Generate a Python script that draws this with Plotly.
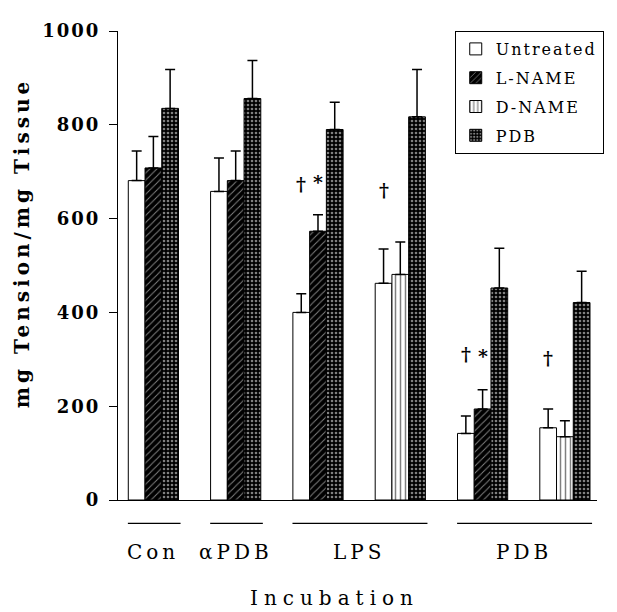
import plotly.graph_objects as go

# ---- data ----
groups = [0, 1, 2, 3, 4, 5]            # bar-cluster positions
untreated = [681, 658, 400, 462, 142, 154]
untreated_err = [63, 71, 40, 73, 37, 40]
lname_x = [0, 1, 2, 4]
lname = [708, 681, 573, 194]
lname_err = [67, 63, 35, 41]
dname_x = [3, 5]
dname = [481, 135]
dname_err = [69, 34]
pdb = [835, 856, 790, 817, 452, 421]
pdb_err = [83, 81, 58, 101, 85, 67]

y_ticks = [0, 200, 400, 600, 800, 1000]
group_labels = ["Con", "αPDB", "LPS", "PDB"]
group_spans = [(0, 0), (1, 1), (2, 3), (4, 5)]

dagger_x = [2, 3, 4, 5]          # over the Untreated bar
dagger_y = [673, 660, 312, 302]
star_x = [2, 4]                  # over the L-NAME bar
star_y = [677, 308]

SERIF = "DejaVu Serif, Liberation Serif, serif"
BAR_W = 0.203   # one bar's width in axis units (for mark placement)


def spaced(t, px):
    return f'<span style="letter-spacing:{px}px">{t}</span>'


fig = go.Figure()
line = dict(color="black", width=1)
eb = dict(type="data", symmetric=False, color="black", thickness=1.5, width=5)

fig.add_trace(go.Bar(
    x=groups, y=untreated, name=spaced("Untreated", 2), offsetgroup="a",
    legendgroup="u",
    marker=dict(color="white", line=line),
    error_y=dict(eb, array=untreated_err, arrayminus=[0] * len(groups)),
))
fig.add_trace(go.Bar(
    x=lname_x, y=lname, name=spaced("L-NAME", 2), offsetgroup="b",
    legendgroup="l",
    marker=dict(color="black", line=line,
                pattern=dict(shape="/", fgcolor="white", bgcolor="black",
                             size=5, solidity=0.2)),
    error_y=dict(eb, array=lname_err, arrayminus=[0] * len(lname_x)),
))
fig.add_trace(go.Bar(
    x=dname_x, y=dname, name=spaced("D-NAME", 2), offsetgroup="b",
    legendgroup="d",
    marker=dict(color="white", line=line,
                pattern=dict(shape="|", fgcolor="black", bgcolor="white",
                             size=5, solidity=0.3)),
    error_y=dict(eb, array=dname_err, arrayminus=[0] * len(dname_x)),
))
fig.add_trace(go.Bar(
    x=groups, y=pdb, name=spaced("PDB", 2), offsetgroup="c",
    legendgroup="p",
    marker=dict(color="black", line=line,
                pattern=dict(shape=".", fgcolor="white", bgcolor="black",
                             size=4, solidity=0.35)),
    error_y=dict(eb, array=pdb_err, arrayminus=[0] * len(groups)),
))

# significance marks
for gx, gy in zip(dagger_x, dagger_y):
    fig.add_annotation(x=gx - BAR_W, y=gy, text="<b>†</b>", showarrow=False,
                       xanchor="center", yanchor="middle",
                       font=dict(family=SERIF, size=19, color="black"))
for gx, gy in zip(star_x, star_y):
    fig.add_annotation(x=gx, y=gy, text="<b>*</b>", showarrow=False,
                       xanchor="center", yanchor="middle",
                       font=dict(family=SERIF, size=19, color="black"))

# group underlines and labels
for lab, (a, b) in zip(group_labels, group_spans):
    fig.add_shape(type="line", xref="x", yref="paper",
                  x0=a - 0.31, x1=b + 0.33, y0=-0.05, y1=-0.05,
                  line=dict(color="black", width=1.2))
    fig.add_annotation(x=(a + b) / 2, y=-0.11, xref="x", yref="paper",
                       text=spaced(lab, 4), showarrow=False, yanchor="middle",
                       font=dict(family=SERIF, size=20, color="black"))

fig.add_annotation(x=0.451, y=-0.208, xref="paper", yref="paper",
                   text=spaced("Incubation", 6), showarrow=False,
                   yanchor="middle",
                   font=dict(family=SERIF, size=20, color="black"))

# y-axis title
fig.add_annotation(x=-0.2, y=0.548, xref="paper", yref="paper",
                   text=spaced("<b>mg Tension/mg Tissue</b>", 4),
                   textangle=-90, showarrow=False,
                   xanchor="center", yanchor="middle",
                   font=dict(family=SERIF, size=20, color="black"))

fig.update_layout(
    width=609, height=604,
    margin=dict(l=110, r=20, t=12, b=112),
    paper_bgcolor="white", plot_bgcolor="white",
    barmode="group", bargap=0.39, bargroupgap=0,
    showlegend=True,
    legend=dict(x=0.703, y=1.0, xanchor="left", yanchor="top",
                bordercolor="black", borderwidth=1, bgcolor="white",
                font=dict(family=SERIF, size=16, color="black"),
                traceorder="grouped", tracegroupgap=5),
    xaxis=dict(range=[-0.43, 5.39], showticklabels=False, ticks="",
               showline=True, linecolor="black", linewidth=1.2,
               showgrid=False, zeroline=False),
    yaxis=dict(range=[0, 1000], tickvals=y_ticks,
               ticktext=[spaced(f"<b>{v}</b>", 2) for v in y_ticks],
               ticks="outside", ticklen=8, tickcolor="black",
               ticklabelstandoff=5,
               showline=True, linecolor="black", linewidth=1.2,
               showgrid=False, zeroline=False,
               tickfont=dict(family=SERIF, size=18, color="black")),
)

fig.write_html("out.html")
